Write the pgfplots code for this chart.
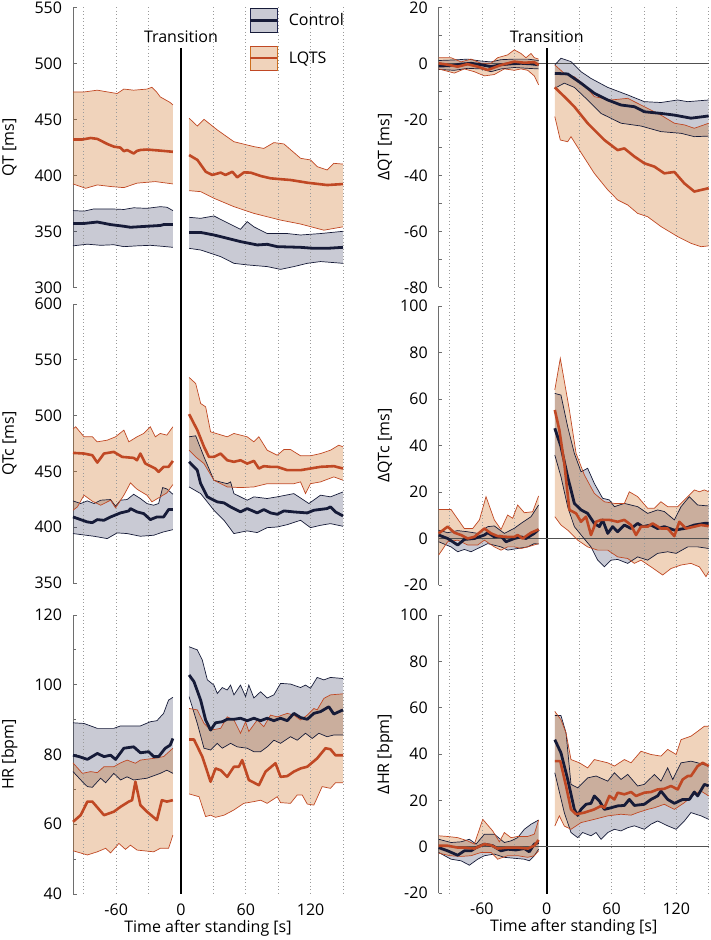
\documentclass[border=0pt]{standalone}
\usepackage{fontspec}
\setmainfont{Open Sans}
\usepackage{pgfplots}
\pgfplotsset{compat=1.18}
\usepgfplotslibrary{fillbetween}
\definecolor{navy}{HTML}{161B38}
\definecolor{navyf}{HTML}{1F2550}
\definecolor{rust}{HTML}{C04824}
\definecolor{rustf}{HTML}{CD6E1E}
\definecolor{axgray}{HTML}{6E6E6E}
\definecolor{zgray}{HTML}{505050}
\definecolor{dotgray}{HTML}{9A9A9A}
\newcommand{\fs}{\fontsize{16}{19}\selectfont}
\pgfplotsset{
  panel/.style={
    scale only axis, width=270pt, xmin=-100, xmax=150,
    axis y line*=left, axis x line*=bottom,
    x axis line style={draw=none},
    tick align=inside,
    major x tick style={draw=none},
    y axis line style={axgray, line width=0.9pt},
    ytick style={axgray, line width=0.9pt},
    major tick length=3.5pt, minor tick length=3pt,
    clip=false, no markers,
    /pgf/number format/assume math mode=true,
    tick label style={font=\fs},
    yticklabel style={xshift=-7.5pt},
    xticklabel style={yshift=-6pt},
    xtick=\empty,
    scaled y ticks=false,
    every axis x label/.style={at={(axis description cs:0.5,0)}, anchor=center, yshift=-34pt, font=\fs},
  },
  leftpanel/.style={panel, every axis y label/.style={at={(axis description cs:-0.235,0.5)}, rotate=90, anchor=center, font=\fs}},
  rightpanel/.style={panel, every axis y label/.style={at={(axis description cs:-0.199,0.5)}, rotate=90, anchor=center, font=\fs}},
  cedge/.style={navy, line width=0.7pt},
  ledge/.style={rust, line width=0.7pt},
  cfill/.style={fill=navyf, fill opacity=0.245, draw=none},
  lfill/.style={fill=rustf, fill opacity=0.3, draw=none},
  cmean/.style={navy, line width=2.8pt, line join=round},
  lmean/.style={rust, line width=2.6pt, line join=round},
  zline/.style={zgray, line width=0.9pt},
}
\begin{document}
\begin{tikzpicture}

% ================= A: QT =================
\begin{axis}[leftpanel, at={(73pt,-287.3pt)}, anchor=south west, height=280pt,
  ymin=300, ymax=550, ytick={300,350,...,550}, ylabel={QT [ms]},
  legend style={at={(axis description cs:0.651,0.998)}, anchor=north west, draw=none, fill=none,
    inner sep=0pt, row sep=13pt, column sep=10pt, font=\fs, nodes={inner sep=0pt}},
  legend cell align=left]
\addlegendimage{legend image code/.code={
  \fill[navyf, fill opacity=0.245] (0pt,-12pt) rectangle (27pt,12pt);
  \draw[navy, line width=0.7pt] (0pt,-12pt) -- (27pt,-12pt);
  \draw[navy, line width=0.7pt] (0pt,12pt) -- (27pt,12pt);
  \draw[navy, line width=2.8pt] (0pt,0pt) -- (27pt,0pt);}}
\addlegendentry{Control}
\addlegendimage{legend image code/.code={
  \fill[rustf, fill opacity=0.3] (0pt,-12pt) rectangle (27pt,12pt);
  \draw[rust, line width=0.7pt] (0pt,-12pt) -- (27pt,-12pt);
  \draw[rust, line width=0.7pt] (0pt,12pt) -- (27pt,12pt);
  \draw[rust, line width=2.6pt] (0pt,0pt) -- (27pt,0pt);}}
\addlegendentry{LQTS}
\pgfplotsinvokeforeach{-90,-60,-30,30,60,90,120,150}{\draw[dotgray, line width=0.8pt, dash pattern=on 0.9pt off 2.6pt] (axis cs:#1,550) -- (axis cs:#1,-241.7);}
\draw[black, line width=2.2pt] (axis cs:0,513.7) -- (axis cs:0,-241.7);
\node[font=\fs] at (axis cs:0,523.5) {Transition};
% control
\addplot[cedge, name path=cuL] coordinates {(-100,368.5) (-89.8,368) (-80.6,370) (-65.2,370) (-52.9,369.5) (-43.8,371) (-31.5,370.5) (-19.2,372) (-13.1,371.5) (-7.5,368.5)};
\addplot[cedge, name path=clL] coordinates {(-100,337) (-86.7,338.5) (-74.4,337.5) (-62.2,338) (-52.9,336.3) (-40.7,337) (-28.4,337.5) (-16.1,336.5) (-7.5,335.7)};
\addplot[cfill] fill between[of=cuL and clL];
\addplot[cedge, name path=cuR] coordinates {(7.5,362.5) (18.2,361.6) (30.5,363.7) (42.8,357.7) (55.1,351.8) (61.3,358.6) (67.5,354) (79.8,348) (98.4,348) (110.7,346.7) (129.2,348) (150,350)};
\addplot[cedge, name path=clR] coordinates {(7.5,334.8) (18.2,333.3) (36.7,327.4) (49,321.4) (61.3,320) (79.8,318.5) (92.2,316) (104.5,318.5) (116.9,321.4) (129.2,323) (150,321.4)};
\addplot[cfill] fill between[of=cuR and clR];
% LQTS
\addplot[ledge, name path=luL] coordinates {(-100,474.4) (-89.8,474.4) (-77.5,476) (-68.3,474.5) (-59.1,473) (-52.9,477) (-43.8,476) (-31.5,477) (-26.9,478.6) (-22.3,474) (-19.2,470) (-10,465) (-7.5,462.8)};
\addplot[ledge, name path=llL] coordinates {(-100,392.3) (-88.3,388.4) (-77.5,391.4) (-65.2,390) (-52.9,389) (-40.7,393) (-23.8,394.4) (-7.5,392.3)};
\addplot[lfill] fill between[of=luL and llL];
\addplot[ledge, name path=luR] coordinates {(7.5,451) (15.1,444) (21.3,450) (33.6,440.5) (49,430) (67.5,425.6) (76.7,424) (86,429.2) (95.3,428) (110.7,415.2) (119.9,413.7) (126.1,407.7) (135.3,404.8) (141.5,410.7) (150,410)};
\addplot[ledge, name path=llR] coordinates {(7.5,386.3) (18.2,385.4) (30.5,379.5) (49,372) (67.5,366) (92.2,360) (110.7,356.5) (132.3,351) (150,354)};
\addplot[lfill] fill between[of=luR and llR];
% means
\addplot[cmean] coordinates {(-100,357) (-89.8,357) (-77.5,358.3) (-65.2,356) (-52.9,354.5) (-46.8,353.6) (-31.5,354.5) (-19.2,355.2) (-16.1,356) (-7.5,356)};
\addplot[cmean] coordinates {(7.5,349) (18.2,349) (30.5,346.7) (42.8,343.8) (55.1,340.8) (70.6,337.8) (79.8,338.4) (89.1,336.3) (110.7,335.7) (123,334.8) (135.3,334.8) (150,335.7)};
\addplot[lmean] coordinates {(-100,432) (-91.3,432) (-83.6,433.3) (-77.5,432.5) (-68.3,428) (-62.2,425.6) (-56,424.7) (-52.9,421.5) (-49.9,422.6) (-46.8,421) (-43.8,419.5) (-40.7,421.8) (-37.6,422.6) (-31.5,423) (-22.3,422.3) (-13.1,421.5) (-7.5,421)};
\addplot[lmean] coordinates {(7.5,418.1) (15.2,413.7) (22.9,403.2) (29,400.3) (36.7,402.4) (41.3,400.3) (47.5,403.2) (52.1,398.2) (58.3,402.6) (64.4,402.4) (73.7,399.4) (83,397.3) (101.5,395.8) (116.9,393.4) (135.4,391.3) (150,392.2)};
\end{axis}

% ================= B: dQT =================
\begin{axis}[rightpanel, at={(438.7pt,-287.3pt)}, anchor=south west, height=280pt,
  ymin=-80, ymax=20, ytick={-80,-60,...,20}, minor y tick num=1, ylabel={ΔQT [ms]}]
\pgfplotsinvokeforeach{-90,-60,-30,30,60,90,120,150}{\draw[dotgray, line width=0.8pt, dash pattern=on 0.9pt off 2.6pt] (axis cs:#1,20) -- (axis cs:#1,-296.7);}
\addplot[zline] coordinates {(-100,0) (150,0)};
\node[font=\fs] at (axis cs:0,9.4) {Transition};
\addplot[cedge, name path=cuL] coordinates {(-100,1) (-85.5,1.2) (-73.2,1.5) (-60.8,0.8) (-51.5,0.5) (-42.3,1.3) (-30,1.5) (-17.6,1.5) (-7.5,1)};
\addplot[cedge, name path=clL] coordinates {(-100,-2.2) (-85.5,-2.5) (-73.2,-1.8) (-60.8,-2) (-51.5,-3) (-42.3,-2) (-30,-1.5) (-17.6,-1.8) (-7.5,-2)};
\addplot[cfill] fill between[of=cuL and clL];
\addplot[cedge, name path=cuR] coordinates {(7.5,-0.6) (13.2,1.8) (22.5,0.6) (31.8,-3) (41,-5.4) (56.5,-8.6) (75,-11.3) (90.4,-13.7) (105.8,-14) (121.3,-13.1) (130.6,-13.7) (150,-13.1)};
\addplot[cedge, name path=clR] coordinates {(7.5,-8.9) (16.3,-7.1) (25.6,-8.6) (37.9,-13.1) (50.3,-17.9) (68.8,-21.4) (87.3,-22.4) (105.8,-24.4) (124.4,-25) (136.7,-26.2) (150,-26)};
\addplot[cfill] fill between[of=cuR and clR];
\addplot[ledge, name path=luL] coordinates {(-100,2) (-88.6,2) (-79.3,0.5) (-70.1,1.5) (-60.8,0) (-51.5,0) (-45.4,2) (-36.2,3) (-30,4.8) (-23.8,3.5) (-19.2,2) (-14.5,3.5) (-11.5,2) (-7.5,1.5)};
\addplot[ledge, name path=llL] coordinates {(-100,-2) (-85.5,-3.5) (-76.3,-2) (-67,-3) (-57.7,-4.5) (-48.5,-4) (-39.2,-2) (-30,-2.5) (-23.8,-2) (-17.6,-2.5) (-11.5,-4.5) (-7.5,-7.7)};
\addplot[lfill] fill between[of=luL and llL];
\addplot[ledge, name path=luR] coordinates {(7.5,-0.6) (16.3,-3.6) (25.6,-4.8) (34.9,-7.7) (44.1,-11.9) (59.6,-13.1) (75,-12.5) (87.3,-14.9) (96.6,-16.7) (105.8,-18.5) (118.2,-21.4) (127.5,-22) (136.7,-23.2) (150,-21.4)};
\addplot[ledge, name path=llR] coordinates {(7.5,-19) (12.6,-27.4) (19.4,-28) (22.5,-26.2) (31.8,-31.9) (44.1,-39.3) (56.5,-45.2) (65.7,-48.8) (75,-50.6) (84.2,-53.6) (93.5,-54.8) (105.8,-58.3) (121.3,-61.9) (133.6,-64.3) (142.9,-65.5) (150,-65.2)};
\addplot[lfill] fill between[of=luR and llR];
\addplot[cmean] coordinates {(-100,-1) (-88.6,-0.8) (-79.3,-0.3) (-70.1,0) (-60.8,-0.5) (-51.5,-1.2) (-42.3,-0.5) (-33.1,-0.2) (-23.8,0) (-14.5,-0.2) (-7.5,-0.5)};
\addplot[cmean] coordinates {(7.5,-3.6) (19.4,-3.8) (31.8,-7.1) (44.1,-10.7) (56.5,-13.1) (68.8,-14.9) (81.2,-15.5) (90.4,-17.3) (105.8,-17.9) (118.2,-18.5) (133.6,-19.6) (150,-18.8)};
\addplot[lmean] coordinates {(-100,0) (-91.7,-0.5) (-82.4,-1.2) (-73.2,-0.3) (-63.9,-1.2) (-54.6,-2.4) (-48.5,-1.5) (-42.3,-0.6) (-30,0.6) (-20.7,0.2) (-11.5,0.4) (-7.5,-0.6)};
\addplot[lmean] coordinates {(7.5,-8.6) (16.3,-11.9) (25.6,-15.5) (37.9,-21.4) (53.4,-27.4) (65.7,-31) (71.9,-30.4) (81.2,-33.3) (90.4,-35.7) (99.7,-36.9) (108.9,-39.3) (118.2,-38.8) (127.5,-42.9) (136.7,-45.8) (150,-44.6)};
\draw[black, line width=2.2pt] (axis cs:0,5.46) -- (axis cs:0,-296.7);
\end{axis}

% ================= C: QTc =================
\begin{axis}[leftpanel, at={(73pt,-583pt)}, anchor=south west, height=279pt,
  ymin=350, ymax=600, ytick={350,400,...,600}, ylabel={QTc [ms]}]
\addplot[cedge, name path=cuL] coordinates {(-100,423.6) (-92.9,421.2) (-86.7,423.6) (-80.6,421.2) (-74.4,424.2) (-65.2,424.8) (-60.6,418.8) (-56,424.2) (-49.9,424.8) (-43.8,429.5) (-37.6,425.7) (-31.5,421.2) (-25.3,419.7) (-20.7,421.2) (-17,435.5) (-13.1,434.3) (-7.5,429.5)};
\addplot[cedge, name path=clL] coordinates {(-100,394.3) (-80.6,391.9) (-68.3,389.8) (-59.1,394.9) (-49.9,394.3) (-37.6,391.9) (-25.3,392.8) (-16.1,395.8) (-7.5,397.8)};
\addplot[cfill] fill between[of=cuL and clL];
\addplot[cedge, name path=cuR] coordinates {(7.5,481) (13.6,481.9) (21.3,463) (30.5,442) (42.8,439) (45.9,440.6) (49,430.1) (61.3,424.2) (67.5,427.2) (79.8,425.7) (89.1,427.2) (104.5,430.1) (113.8,424.2) (118.4,421.2) (129.2,428.7) (138.4,427.2) (150,431.6)};
\addplot[cedge, name path=clR] coordinates {(7.5,436.1) (18.2,430.1) (30.5,415.2) (39.8,406.2) (49,394.3) (61.3,396.7) (70.6,395.2) (79.8,399.6) (89.1,400.2) (98.4,402.3) (110.7,406.2) (119.9,399.6) (129.2,401.7) (138.4,403.2) (150,400.8)};
\addplot[cfill] fill between[of=cuR and clR];
\addplot[ledge, name path=luL] coordinates {(-100,488) (-97.5,490) (-89.8,481) (-82.1,481) (-77.5,476.5) (-68.3,478) (-60.6,481) (-52.9,487) (-48.3,476.5) (-40.7,481) (-34.5,484) (-28.4,490) (-23.8,481) (-19.2,484) (-13.1,482.5) (-7.5,490)};
\addplot[ledge, name path=llL] coordinates {(-100,415.2) (-95.9,418.2) (-89.8,428.7) (-82.1,423.3) (-74.4,419.7) (-65.2,424.2) (-60.6,417.3) (-52.9,428.7) (-46.8,439.7) (-40.7,434) (-31.5,428.7) (-26.9,422.7) (-19.2,427.2) (-13.1,430.7) (-7.5,438.2)};
\addplot[lfill] fill between[of=luL and llL];
\addplot[ledge, name path=luR] coordinates {(7.5,534.2) (13.6,528.8) (18.2,510.9) (22.8,507.9) (27.4,485.5) (42.8,481) (49,484) (61.3,481) (67.5,476.5) (72.1,481) (79.8,469) (89.1,464.5) (95.3,469.6) (101.4,469.6) (110.7,464) (119.9,464) (129.2,466) (138.4,469) (146.1,473.5) (150,472)};
\addplot[ledge, name path=llR] coordinates {(7.5,469) (13.6,463) (21.3,457) (30.5,442.1) (42.8,436.1) (55.1,435.5) (67.5,436.1) (79.8,439) (92.2,439) (104.5,439) (110.7,440.6) (115.3,430.1) (119.9,439) (129.2,440.6) (141.5,445.1) (150,442.1)};
\addplot[lfill] fill between[of=luR and llR];
\addplot[cmean] coordinates {(-100,409.2) (-86.7,404.7) (-82.1,404.1) (-77.5,406.8) (-71.3,406.2) (-65.2,409.2) (-56,412.8) (-48.3,414.6) (-46.8,416.7) (-40.7,413.7) (-34.5,412.2) (-28.4,406.8) (-22.3,409.2) (-16.1,409.2) (-11.5,415.8) (-7.5,415.8)};
\addplot[cmean] coordinates {(7.5,458.6) (15.1,451) (18.2,439) (24.4,427.2) (33.6,422.7) (39.8,421.8) (45.9,418.2) (55.1,413.7) (61.3,416.7) (70.6,412.8) (76.7,415.8) (82.9,412.8) (89.1,411.6) (95.3,414.6) (104.5,413.7) (116.9,412.8) (123,415.2) (135.3,416.7) (138.4,418.2) (143,413.7) (150,410.1)};
\addplot[lmean] coordinates {(-100,466.6) (-89.8,466) (-82.1,464.5) (-77.5,457.9) (-71.3,466) (-62.2,467.5) (-54.5,463) (-43.8,462.1) (-40.7,460) (-37.6,466) (-33,457) (-23.8,452.6) (-20.7,449.6) (-16.1,454.1) (-11.5,454.1) (-7.5,459.4)};
\addplot[lmean] coordinates {(7.5,501.3) (15.1,487) (21.3,472) (25.9,463) (30.5,463) (36.7,466) (42.8,460) (49,458.6) (55.1,460) (61.3,457) (67.5,459.4) (72.1,452.6) (76.7,454.7) (82.9,454.1) (89.1,454.1) (98.4,451.1) (110.7,451.1) (119.9,452.6) (129.2,454.1) (141.5,454.7) (150,452.6)};
\end{axis}

% ================= D: dQTc =================
\begin{axis}[rightpanel, at={(438.7pt,-585pt)}, anchor=south west, height=279pt,
  ymin=-20, ymax=100, ytick={-20,0,...,100}, ylabel={ΔQTc [ms]}]
\addplot[zline] coordinates {(-100,0) (150,0)};
\addplot[cedge, name path=cuL] coordinates {(-100,3.6) (-91.7,2.5) (-82.4,3.4) (-73.2,2.9) (-63.9,2.2) (-54.6,5.1) (-48.5,5.4) (-39.2,2.2) (-30,4.4) (-23.8,6.5) (-14.5,9.4) (-7.5,14.4)};
\addplot[cedge, name path=clL] coordinates {(-100,-1.4) (-88.6,-3.6) (-82.4,-5.7) (-76.3,-4.7) (-70.1,-5.7) (-60.8,-3.6) (-54.6,-2.2) (-42.3,-3.6) (-36.2,-5) (-26.9,-4.3) (-17.6,-3.6) (-11.5,-2.2) (-7.5,-2.4)};
\addplot[cfill] fill between[of=cuL and clL];
\addplot[cedge, name path=cuR] coordinates {(7.5,62.4) (13.2,61.7) (19.4,48.1) (25.6,36.6) (31.8,28.7) (37.9,30.2) (44.1,23.7) (51.8,17.3) (58,16.6) (62.7,13.7) (71.9,15.1) (84.2,13.7) (93.5,10.8) (102.7,12.3) (108.9,11.6) (118.2,8) (124.4,13.7) (132.1,18) (139.8,14.4) (150,14)};
\addplot[cedge, name path=clR] coordinates {(7.5,35.9) (13.2,26.6) (19.4,13.7) (25.6,5.1) (33.3,0.7) (41,-3.6) (47.2,-9.3) (53.4,-12.2) (59.6,-9.3) (65.7,-9) (75,-10.7) (84.2,-7.9) (93.5,-9.3) (102.7,-6.4) (112,-5.7) (119.8,-6.4) (130.6,-3.6) (139.8,-3.6) (150,-4.3)};
\addplot[cfill] fill between[of=cuR and clR];
\addplot[ledge, name path=luL] coordinates {(-100,12.5) (-88.6,12.5) (-76.3,4.3) (-68.5,4.3) (-62.3,8) (-56.2,18) (-48.5,8) (-42.3,3.9) (-36.2,10.1) (-31.5,8.7) (-26.9,14.4) (-20.7,11.1) (-13,11.5) (-7.5,18.3)};
\addplot[ledge, name path=llL] coordinates {(-100,-7.1) (-91.7,-1.4) (-82.4,-0.7) (-73.2,-2.8) (-63.9,-2.8) (-57.7,-0.7) (-48.5,-3.6) (-42.3,-5) (-36.2,-3.6) (-30,-3.6) (-23.8,-4.3) (-17.6,-3.6) (-7.5,-2.2)};
\addplot[lfill] fill between[of=luL and llL];
\addplot[ledge, name path=luR] coordinates {(7.5,63.9) (12.6,77.5) (21,55.3) (27.2,36.6) (34.9,27.3) (44.1,19.4) (53.4,15.8) (62.7,15.1) (71.9,15.1) (76.5,20.1) (84.2,18) (93.5,13) (99.7,13) (105.8,15.8) (112,13.7) (121.3,13.7) (127.5,16.6) (136.7,20.9) (141.4,20.1) (146,20.9) (150,20.1)};
\addplot[ledge, name path=llR] coordinates {(7.5,9.4) (13.2,5.8) (19.4,3.6) (28.7,-0.7) (37.9,-3.6) (47.2,-5) (56.5,-5) (65.7,-7.9) (75,-8.6) (81.2,-10.7) (87.3,-9.3) (96.6,-12.2) (107.4,-15.7) (115.1,-12.9) (124.4,-11.4) (133.6,-10.7) (141.4,-12.2) (147.5,-16.4) (150,-14.3)};
\addplot[lfill] fill between[of=luR and llR];
\addplot[cmean] coordinates {(-100,1.5) (-91.7,0) (-82.4,-2.8) (-76.3,-0.4) (-67,0) (-57.7,1.5) (-54.6,2.5) (-48.5,0.7) (-42.3,1) (-37.7,-1.4) (-30,0) (-23.8,0.7) (-19.2,0) (-11.5,2.2) (-7.5,3.9)};
\addplot[cmean] coordinates {(7.5,47.4) (13.2,39.5) (19.4,26.6) (25.6,15.1) (31.8,12.3) (37.9,10.8) (44.1,6.5) (48.8,5.1) (51.8,8) (56.5,2.2) (61.1,5.1) (65.7,2.9) (71.9,5.8) (78.1,4.3) (84.2,6.5) (88.9,5.1) (96.6,5.8) (102.7,4.3) (108.9,5.1) (118.2,3.6) (127.5,4.3) (136.7,5.8) (146,6.5) (150,6.5)};
\addplot[lmean] coordinates {(-100,2.2) (-91.7,5.1) (-85.5,2.5) (-79.3,1.5) (-73.2,0) (-67,0.7) (-57.7,4.3) (-51.5,2.2) (-45.4,1) (-36.2,0.7) (-30,0.7) (-26.9,1.5) (-22.3,0) (-14.5,2.5) (-7.5,3.9)};
\addplot[lmean] coordinates {(7.5,55.3) (11.7,46.7) (16.3,32.3) (21,12.3) (27.2,10.8) (31.8,7.2) (36.4,9.4) (41,1.5) (45.7,7.2) (50.3,8) (58,8) (65.7,7.2) (71.9,8) (78.1,5.8) (82.7,1.5) (87.3,5.1) (93.5,5.1) (98.1,6.5) (105.8,4.3) (112,4.3) (118.2,1) (122.8,7.2) (129,4.3) (136.7,5.1) (142.9,5.8) (150,5.3)};
\end{axis}

% ================= E: HR =================
\begin{axis}[leftpanel, at={(73pt,-894pt)}, anchor=south west, height=279pt,
  ymin=40, ymax=120, ytick={40,60,...,120}, minor y tick num=1, ylabel={HR [bpm]},
  xtick={-60,0,60,120}, xlabel={Time after standing [s]}]
\addplot[cedge, name path=cuL] coordinates {(-100,89.1) (-89.8,88.9) (-77.5,87.5) (-62.2,87.5) (-56,88.2) (-37.6,88.2) (-28.4,89.4) (-22.3,89.7) (-16.1,91.8) (-11.5,95.6) (-7.5,96.4)};
\addplot[cedge, name path=clL] coordinates {(-100,75.1) (-91.3,72.2) (-86.7,70.8) (-82.1,70.6) (-74.4,73.2) (-69.8,71.9) (-62.2,74.6) (-56,72.7) (-49.9,73.6) (-43.8,72.7) (-31.5,73.2) (-19.2,74.6) (-13.1,75.5) (-7.5,74.6)};
\addplot[cfill] fill between[of=cuL and clL];
\addplot[cedge, name path=cuR] coordinates {(7.5,110.9) (15.1,110) (19.7,107.1) (24.4,101.4) (30.5,99.9) (33.6,97.5) (38.2,99.2) (42.8,98.5) (45.9,99.9) (49,97.1) (55.1,99.9) (59.8,96.6) (62.8,99.9) (67.5,96.2) (73.7,98) (79.8,96.2) (86,97.1) (92.2,100.4) (101.4,100.2) (110.7,99.2) (115.3,99.9) (119.9,99) (126.1,102.1) (132.3,101.4) (138.4,102.1) (150,101.8)};
\addplot[cedge, name path=clR] coordinates {(7.5,96.6) (15.1,88.9) (21.3,81.8) (27.4,81.3) (33.6,83.2) (38.2,81.8) (45.9,83.2) (52.1,82.2) (61.3,81.8) (67.5,80.8) (73.7,80.8) (79.8,82.2) (86,84.1) (92.2,83.2) (101.4,85.1) (107.6,84.1) (115.3,86.1) (121.5,84.6) (127.6,86.1) (135.3,85.1) (141.5,85.6) (150,85.6)};
\addplot[cfill] fill between[of=cuR and clR];
\addplot[ledge, name path=luL] coordinates {(-100,77.6) (-91.3,74.6) (-83.6,75.1) (-77.5,74.8) (-71.3,76.5) (-62.2,76.5) (-56,77.6) (-49.9,78.4) (-42.2,77.5) (-37.6,78.4) (-25.3,78.9) (-16.1,79.4) (-7.5,81.8)};
\addplot[ledge, name path=llL] coordinates {(-100,52.4) (-86.7,51.2) (-77.5,52.1) (-69.8,53.1) (-65.2,51.8) (-57.5,54.5) (-51.4,52.8) (-46.8,54) (-40.7,52.6) (-25.3,52.1) (-19.2,53.1) (-11.5,53.1) (-7.5,56.9)};
\addplot[lfill] fill between[of=luL and llL];
\addplot[ledge, name path=luR] coordinates {(7.5,93.2) (15.1,92.8) (21.3,88.9) (27.4,87) (36.7,87.5) (42.8,90.8) (49,89.9) (55.1,86.1) (59.8,89.4) (62.8,86.6) (70.6,89.9) (76.7,88) (82.9,91.3) (89.1,90.8) (98.4,91.8) (104.5,91.3) (110.7,89.9) (116.9,91.3) (123,93.2) (126.1,92.8) (132.3,96.1) (138.4,97.1) (150,97.4)};
\addplot[ledge, name path=llR] coordinates {(7.5,68.7) (16.7,67.9) (22.8,62.2) (27.4,62.6) (32,62) (39.8,62.6) (49,64.1) (58.2,66) (67.5,66.5) (73.7,66.9) (79.8,66) (89.1,67.9) (92.2,66.2) (101.4,66) (107.6,68.4) (112.2,68.4) (116.9,65.8) (123,65.5) (130.7,70.8) (138.4,70.3) (143,71.9) (150,71.9)};
\addplot[lfill] fill between[of=luR and llR];
\addplot[cmean] coordinates {(-100,79.8) (-94.4,79.4) (-86.7,78.6) (-77.5,80.3) (-71.3,79.4) (-65.2,79.8) (-60.6,78.6) (-52.9,81.8) (-43.8,82.2) (-37.6,80.5) (-29.9,80.8) (-25.3,79.4) (-20.7,79.4) (-14.6,81.8) (-10,82.7) (-7.5,84.6)};
\addplot[cmean] coordinates {(7.5,102.8) (12,100.9) (18.2,95.6) (22.8,89.9) (27.4,87) (32,89.1) (38.2,89.4) (42.8,90.1) (49,90.1) (55.1,90.4) (61.3,89.7) (67.5,90.4) (73.7,89.7) (79.8,90.4) (86,89.7) (92.2,90.4) (98.4,89.7) (104.5,91.8) (110.7,90.6) (116.9,90.1) (123,91.8) (129.2,92.3) (136.9,93.7) (141.5,91.6) (150,92.8)};
\addplot[lmean] coordinates {(-100,60.7) (-92.9,62.6) (-86.7,66.5) (-82.1,66.5) (-71.3,62.6) (-62.2,63.6) (-56,65) (-48.3,66.5) (-45.3,66.9) (-42.2,72.2) (-37.6,65.5) (-31.5,63.6) (-22.3,61.2) (-17.7,66.9) (-13.1,66.5) (-7.5,66.9)};
\addplot[lmean] coordinates {(7.5,84.3) (12,84.3) (19.7,79.4) (27.4,72.2) (32,76) (36.7,75.5) (42.8,73.6) (49,76.5) (53.6,76.5) (56.7,78.4) (62.8,72.7) (72.1,71.2) (78.3,75.1) (87.5,77.5) (92.2,73.6) (98.4,73.8) (104.5,75.1) (110.7,76) (116.9,76.5) (126.1,78.9) (133.8,81.8) (138.4,81.5) (143,79.8) (150,79.8)};
\end{axis}

% ================= F: dHR =================
\begin{axis}[rightpanel, at={(438.7pt,-893pt)}, anchor=south west, height=278pt,
  ymin=-20, ymax=100, ytick={-20,0,...,100}, ylabel={ΔHR [bpm]},
  xtick={-60,0,60,120}, xlabel={Time after standing [s]}]
\addplot[zline] coordinates {(-100,0) (150,0)};
\addplot[cedge, name path=cuL] coordinates {(-100,3.2) (-88.6,1.8) (-79.3,2.1) (-71.6,3.2) (-65.4,1.1) (-57.7,5.4) (-48.5,5.4) (-39.2,1.8) (-33.1,2.5) (-26.9,3.9) (-20.7,7.5) (-14.5,9.7) (-7.5,11.5)};
\addplot[cedge, name path=clL] coordinates {(-100,-2.5) (-88.6,-5.4) (-79.3,-6.1) (-71.6,-8) (-63.9,-5.4) (-57.7,-3.9) (-48.5,-3.2) (-39.2,-4.6) (-30,-5) (-20.7,-5.4) (-16.1,-6.1) (-11.5,-3.9) (-7.5,-1.1)};
\addplot[cfill] fill between[of=cuL and clL];
\addplot[cedge, name path=cuR] coordinates {(7.5,56.6) (13.2,56.6) (17.9,49.1) (22.5,26.9) (28.7,25.4) (37.9,29.7) (45.7,30.5) (56.5,28.3) (62.7,31.9) (68.8,29) (75,31.2) (84.2,26.2) (90.4,26.9) (99.7,31.2) (105.8,28.3) (112,34) (116.7,29) (124.4,36.2) (133.6,36.9) (139.8,36.2) (150,34.8)};
\addplot[cedge, name path=clR] coordinates {(7.5,31.9) (16.3,14.7) (22.5,6.1) (28.7,3.9) (33.3,6.1) (41,4.7) (45.7,6.1) (50.3,3.2) (56.5,6.1) (62.7,7.5) (68.8,6.8) (75,8.2) (81.2,9) (90.4,7.5) (96.6,9.7) (102.7,11.1) (112,9) (119.8,7.5) (127.5,11.1) (133.6,14.7) (142.9,13.3) (150,11.8)};
\addplot[cfill] fill between[of=cuR and clR];
\addplot[ledge, name path=luL] coordinates {(-100,4.7) (-91.7,4.4) (-82.4,3.9) (-73.2,2.5) (-67,1.1) (-59.2,11.8) (-50,6.8) (-43.8,2.1) (-39.2,6.1) (-33.1,3.9) (-26.9,4.4) (-17.6,4.4) (-11.5,5.4) (-7.5,11.5)};
\addplot[ledge, name path=llL] coordinates {(-100,-2.8) (-89.5,-3.9) (-79.3,-4.2) (-70.1,-3.9) (-60.8,-2.5) (-51.5,-2.5) (-45.4,-5.4) (-36.2,-3.9) (-26.9,-3.9) (-17.6,-4.6) (-11.5,-3.9) (-7.5,-1.8)};
\addplot[lfill] fill between[of=luL and llL];
\addplot[ledge, name path=luR] coordinates {(7.5,58.4) (13.2,54.8) (17.9,49.1) (22.5,37.6) (30.3,36.2) (37.9,34) (44.1,37.6) (56.5,36.2) (62.7,34.8) (71.9,37.6) (78.1,36.2) (87.3,41.2) (96.6,39.8) (105.8,39.1) (112,42) (119.8,39.8) (124.4,46.2) (133.6,47.7) (139.8,49.8) (146,52) (150,52)};
\addplot[ledge, name path=llR] coordinates {(7.5,8.9) (11.7,13.3) (16.3,8.9) (22.5,7.5) (31.8,10.4) (44.1,11.8) (56.5,13.3) (68.8,14) (78.1,13.6) (84.2,14.7) (93.5,16.1) (99.7,16.8) (108.9,18.3) (118.2,16.1) (127.5,19) (136.7,22.6) (142.9,24) (150,21.9)};
\addplot[lfill] fill between[of=luR and llR];
\addplot[cmean] coordinates {(-100,-0.4) (-91.7,-1.8) (-82.4,-3.7) (-76.3,-1.8) (-70.1,-1.8) (-65.4,-0.4) (-57.7,1.1) (-50,0.4) (-42.3,-1.8) (-36.2,-1.1) (-28.4,-1.4) (-20.7,-0.8) (-16.1,-2.2) (-11.5,1.1) (-7.5,1.8)};
\addplot[cmean] coordinates {(7.5,46.2) (13.2,40.5) (19.4,29.1) (25.6,16.1) (28.7,13.5) (31.8,16.1) (36.4,18.3) (41,18.7) (44.1,21.9) (48.8,19.7) (53.4,16.1) (59.6,16.8) (65.7,17.6) (71.9,17.8) (76.5,20.4) (81.2,17.8) (90.4,18.3) (96.6,20.4) (102.7,21.9) (105.8,24) (112,20.4) (118.2,18.7) (125.9,20.4) (132.1,20.4) (136.7,23.6) (139.8,21.9) (146,26.9) (150,26.2)};
\addplot[lmean] coordinates {(-100,0.4) (-91.7,0.4) (-82.4,-0.4) (-76.3,-0.4) (-67,-0.8) (-57.7,1.1) (-51.5,0.6) (-45.4,-0.8) (-36.2,-0.4) (-26.9,-0.4) (-17.6,-0.8) (-11.5,0.4) (-7.5,2.9)};
\addplot[lmean] coordinates {(7.5,36.9) (12.6,36.9) (17.9,26.2) (22.5,16.1) (27.2,14) (34.9,14.7) (44.1,16.1) (50.3,17.6) (53.4,16.8) (58,21.9) (62.7,20.4) (65.7,23.3) (71.9,22.6) (78.1,23.6) (82.7,21.9) (90.4,23.3) (96.6,23.6) (102.7,24.7) (108.9,25) (115.1,26.2) (121.3,24.7) (125.9,29) (130.6,30.5) (133.6,30.5) (139.8,34.8) (144.4,36.2) (150,34.8)};
\end{axis}
\pgfresetboundingbox
\useasboundingbox (0pt,0pt) rectangle (711pt,-940pt);
\end{tikzpicture}
\end{document}
